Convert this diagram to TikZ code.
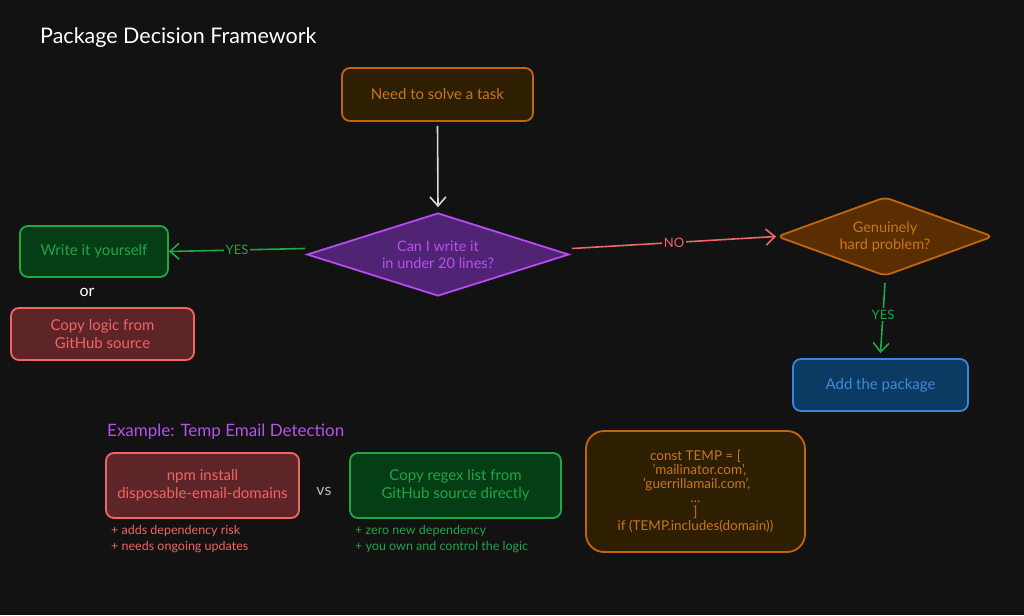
\documentclass[tikz,border=0pt]{standalone}
\usepackage{fontspec}
\setmainfont{Lato}
\usetikzlibrary{arrows.meta,shapes.geometric,calc}
\definecolor{bg}{HTML}{121212}
\definecolor{orfill}{HTML}{2E1F02}
\definecolor{ordraw}{HTML}{C2650E}
\definecolor{ortext}{HTML}{C8761C}
\definecolor{pufill}{HTML}{512374}
\definecolor{pudraw}{HTML}{B64CF2}
\definecolor{putext}{HTML}{B452EC}
\definecolor{grfill}{HTML}{053D14}
\definecolor{grdraw}{HTML}{1FA846}
\definecolor{grtext}{HTML}{22A44A}
\definecolor{rdfill}{HTML}{5E2529}
\definecolor{rddraw}{HTML}{F06565}
\definecolor{rdtext}{HTML}{F06464}
\definecolor{brfill}{HTML}{5A2E00}
\definecolor{blfill}{HTML}{0B3A62}
\definecolor{bldraw}{HTML}{3C84DE}
\definecolor{bltext}{HTML}{4388DA}
\definecolor{vsgray}{HTML}{B8B8B8}
\tikzset{
  box/.style={draw, line width=1.8pt, rounded corners=8pt, align=center, font=\fontsize{15}{18}\selectfont, inner sep=0pt},
  dia/.style={diamond, draw, line width=1.8pt, align=center, font=\fontsize{14.5}{17}\selectfont, inner sep=0pt, aspect=3},
  conn/.style={line width=1.6pt, -{Straight Barb[length=9pt,width=16pt,line width=1.6pt]}},
  lbl/.style={fill=bg, inner sep=2pt, font=\fontsize{13}{15}\selectfont},
  note/.style={anchor=west, font=\fontsize{12.5}{15}\selectfont, inner sep=0pt}
}
\begin{document}
\begin{tikzpicture}[x=1pt,y=-1pt]
\fill[bg] (0,0) rectangle (1024,615);
\useasboundingbox (0,0) rectangle (1024,615);

\node[anchor=west, text=white, font=\fontsize{21.5}{24}\selectfont, inner sep=0pt] (title) at (40,38) {Package Decision Framework};

\node[box, fill=orfill, draw=ordraw, text=ortext, minimum width=191pt, minimum height=53pt] (task) at (437.5,94.5) {Need to solve a task};

\node[dia, fill=pufill, draw=pudraw, text=putext, minimum width=262pt, minimum height=83pt] (q1) at (438,254.5) {Can I write it\\in under 20 lines?};

\node[box, fill=grfill, draw=grdraw, text=grtext, minimum width=148pt, minimum height=51pt] (write) at (94,251.5) {Write it yourself};

\node[text=white, font=\fontsize{16}{18}\selectfont, inner sep=0pt] (or) at (87,292) {or};

\node[box, fill=rdfill, draw=rddraw, text=rdtext, minimum width=183pt, minimum height=52pt] (copy) at (102.5,334) {Copy logic from\\GitHub source};

\node[dia, rounded corners=6pt, fill=brfill, draw=ordraw, text=ortext, minimum width=216pt, minimum height=79pt] (q2) at (885,236.5) {Genuinely\\hard problem?};

\node[box, fill=blfill, draw=bldraw, text=bltext, minimum width=175pt, minimum height=52pt] (add) at (880.5,385) {Add the package};

\draw[conn, white!85!black] ($(task.south)+(0,4)$) -- ($(q1.north)+(0,-5)$);
\draw[conn, grdraw] ($(q1.west)+(-1,-6)$) -- (write.east) node[lbl, text=grtext, pos=0.5] {YES};
\draw[conn, rddraw] ($(q1.east)+(2,-6)$) -- (q2.west) node[lbl, text=rdtext, pos=0.5] {NO};
\draw[conn, grdraw] ($(q2.south)+(0,6)$) -- ($(add.north)+(0,-5)$) node[lbl, text=grtext, pos=0.45] {YES};

\node[anchor=west, text=putext, font=\fontsize{17}{20}\selectfont, inner sep=0pt] (ex) at (107,432) {Example: Temp Email Detection};

\node[box, fill=rdfill, draw=rddraw, text=rdtext, minimum width=193pt, minimum height=65pt] (npm) at (202.5,485.5) {npm install\\disposable-email-domains};
\node[note, text=rdtext] (r1) at (111,531) {+ adds dependency risk};
\node[note, text=rdtext] (r2) at (111,547) {+ needs ongoing updates};

\node[text=vsgray, font=\fontsize{16}{18}\selectfont, inner sep=0pt] (vs) at (324,491) {vs};

\node[box, fill=grfill, draw=grdraw, text=grtext, minimum width=211pt, minimum height=65pt] (regex) at (455.5,485.5) {Copy regex list from\\GitHub source directly};
\node[note, text=grtext] (g1) at (355,531) {+ zero new dependency};
\node[note, text=grtext] (g2) at (355,547) {+ you own and control the logic};

\node[box, rounded corners=18pt, fill=orfill, draw=ordraw, text=ortext, minimum width=219pt, minimum height=121pt, font=\fontsize{13.5}{14.5}\selectfont] (code) at (695.5,491.5) {const TEMP = [\\[-0.5pt]
\hspace*{8pt}'mailinator.com',\\[-0.5pt]
\hspace*{2pt}'guerrillamail.com',\\[-0.5pt]
...\\[-0.5pt]
]\\[-0.5pt]
if (TEMP.includes(domain))};
\end{tikzpicture}
\end{document}
